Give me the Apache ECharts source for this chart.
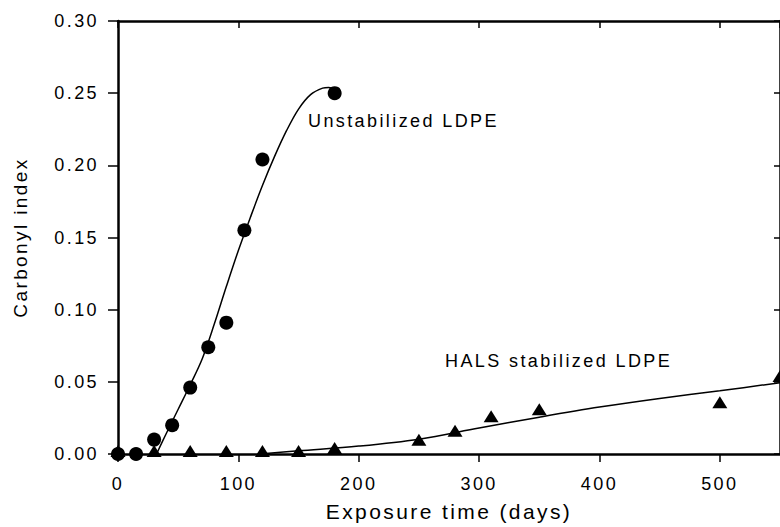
<!DOCTYPE html>
<html>
<head>
<meta charset="utf-8">
<script src="https://cdn.jsdelivr.net/npm/echarts@6/dist/echarts.min.js"></script>
<style>
html, body { margin: 0; padding: 0; background: #fff; }
#main { width: 780px; height: 527px; }
#main svg text { letter-spacing: 2.4px; }
</style>
</head>
<body>
<div id="main"></div>
<script>
// Measured data (x = exposure time in days, y = carbonyl index)
var unstabX = [0, 15, 30, 45, 60, 75, 90, 105, 120, 180];
var unstabY = [0, 0, 0.010, 0.020, 0.046, 0.074, 0.091, 0.155, 0.204, 0.250];
var halsX = [0, 30, 60, 90, 120, 150, 180, 250, 280, 310, 350, 500, 550];
var halsY = [0, 0, 0, 0, 0, 0, 0.002, 0.0078, 0.014, 0.024, 0.029, 0.0338, 0.052];
// Fitted curves
var unstabFitX = [32, 40, 50, 60, 70, 80, 90, 100, 110, 120, 130, 140, 150, 160, 170, 175, 181];
var unstabFitY = [0, 0.014, 0.031, 0.048, 0.066, 0.090, 0.116, 0.141, 0.164, 0.186, 0.206, 0.224, 0.239, 0.249, 0.2535, 0.254, 0.252];
var halsFitX = [118, 150, 200, 250, 300, 350, 400, 450, 500, 550];
var halsFitY = [0, 0.0022, 0.0055, 0.0103, 0.0180, 0.0255, 0.0325, 0.0385, 0.0438, 0.0494];
// Axis ticks
var xTicks = [0, 100, 200, 300, 400, 500];
var yTicks = [0.00, 0.05, 0.10, 0.15, 0.20, 0.25, 0.30];

function zip(a, b) { return a.map(function (v, i) { return [v, b[i]]; }); }

var FONT = 'Liberation Sans, Arial, Helvetica, sans-serif';
var chart = echarts.init(document.getElementById('main'), null, { renderer: 'svg' });

var axisLineStyle = { color: '#000', width: 2.5 };
var tickStyle = { color: '#000', width: 1.5 };

chart.setOption({
  backgroundColor: '#fff',
  animation: false,
  grid: { left: 118, top: 21, width: 664, bottom: 72, containLabel: false },
  xAxis: [
    {
      type: 'value', position: 'bottom', min: 0, max: 550, interval: 100,
      axisLine: { show: true, onZero: false, lineStyle: axisLineStyle },
      axisTick: { show: true, inside: false, length: 8, lineStyle: tickStyle },
      axisLabel: {
        show: true, margin: 21, color: '#000', fontSize: 18, fontFamily: FONT,
        showMaxLabel: false,
        formatter: function (v) { return xTicks.indexOf(v) >= 0 ? String(v) : ''; }
      },
      splitLine: { show: false },
      name: 'Exposure time (days)', nameLocation: 'middle', nameGap: 47,
      nameTextStyle: { color: '#000', fontSize: 21, fontFamily: FONT }
    },
    {
      type: 'value', position: 'top', min: 0, max: 550, interval: 100,
      axisLine: { show: true, onZero: false, lineStyle: axisLineStyle },
      axisTick: { show: true, inside: true, length: 7, lineStyle: tickStyle },
      axisLabel: { show: false },
      splitLine: { show: false }
    }
  ],
  yAxis: [
    {
      type: 'value', position: 'left', min: 0, max: 0.30, interval: 0.05,
      axisLine: { show: true, onZero: false, lineStyle: axisLineStyle },
      axisTick: { show: true, inside: false, length: 10, lineStyle: tickStyle },
      axisLabel: {
        show: true, margin: 19, color: '#000', fontSize: 18, fontFamily: FONT,
        formatter: function (v) { return v.toFixed(2); }
      },
      splitLine: { show: false },
      name: 'Carbonyl index', nameLocation: 'middle', nameGap: 88,
      nameTextStyle: { color: '#000', fontSize: 19, fontFamily: FONT }
    },
    {
      type: 'value', position: 'right', min: 0, max: 0.30, interval: 0.05,
      axisLine: { show: true, onZero: false, lineStyle: axisLineStyle },
      axisTick: { show: true, inside: true, length: 6, lineStyle: tickStyle },
      axisLabel: { show: false },
      splitLine: { show: false }
    }
  ],
  series: [
    {
      name: 'Unstabilized fit', type: 'line', xAxisIndex: 0, yAxisIndex: 0,
      data: zip(unstabFitX, unstabFitY), smooth: 0.35, symbol: 'none',
      lineStyle: { color: '#000', width: 1.5 }, z: 2
    },
    {
      name: 'HALS fit', type: 'line', xAxisIndex: 0, yAxisIndex: 0,
      data: zip(halsFitX, halsFitY), smooth: 0.35, symbol: 'none',
      lineStyle: { color: '#000', width: 1.5 }, z: 2
    },
    {
      name: 'Unstabilized LDPE', type: 'scatter', xAxisIndex: 0, yAxisIndex: 0,
      data: zip(unstabX, unstabY), symbol: 'circle', symbolSize: 14,
      itemStyle: { color: '#000', opacity: 1 }, clip: false, z: 3
    },
    {
      name: 'HALS stabilized LDPE', type: 'scatter', xAxisIndex: 0, yAxisIndex: 0,
      data: zip(halsX, halsY), symbol: 'triangle', symbolSize: [15, 12],
      symbolOffset: [0, -3],
      itemStyle: { color: '#000', opacity: 1 }, clip: false, z: 3
    }
  ],
  graphic: [
    {
      type: 'text', left: 308, top: 112, silent: true,
      style: { text: 'Unstabilized LDPE', fill: '#000', font: '18px ' + FONT }
    },
    {
      type: 'text', left: 445, top: 352, silent: true,
      style: { text: 'HALS stabilized LDPE', fill: '#000', font: '18px ' + FONT }
    }
  ]
});
</script>
</body>
</html>
